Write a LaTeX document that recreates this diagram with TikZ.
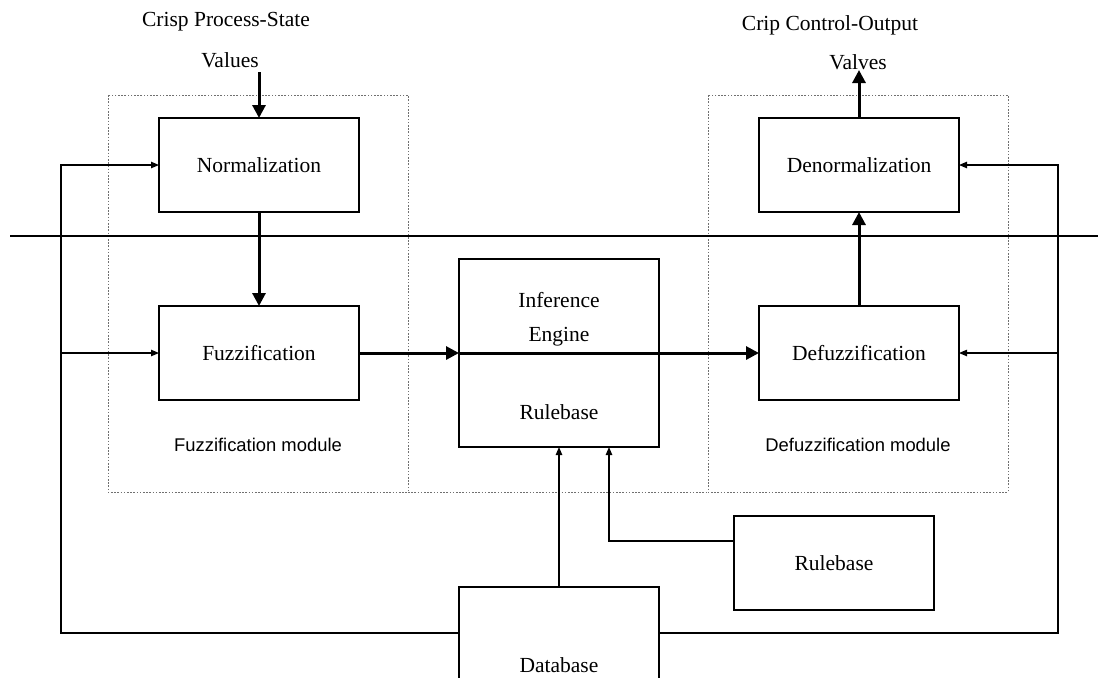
\documentclass[tikz,border=0pt]{standalone}
\usepackage{fontspec}
\setmainfont{Liberation Serif}
\setsansfont{Liberation Sans}
\usetikzlibrary{positioning,arrows.meta}
\definecolor{ModuleGray}{HTML}{707070}

\begin{document}
\begin{tikzpicture}[x=0.5pt,y=-0.5pt,
    box/.style={draw,line width=0.6pt,minimum width=100pt,minimum height=47pt,
      inner sep=0pt,outer sep=0pt,align=center,font=\fontsize{10.75}{13}\selectfont},
    txt/.style={inner sep=0pt,font=\fontsize{10.75}{13}\selectfont},
    modlabel/.style={inner sep=0pt,font=\sffamily\fontsize{9.2}{11}\selectfont},
    module/.style={draw=ModuleGray,line width=0.5pt,dash pattern=on 0.8pt off 0.8pt},
    arrow/.style={line width=1.5pt,-{Triangle[length=6.5pt,width=6.5pt]}},
    link/.style={line width=0.6pt,-{Triangle[length=4pt,width=3.2pt]}}
  ]
    \clip (0,0) rectangle (1098,677);
    % modules
    \draw[module] (108,95) rectangle (408,492);
    \draw[module] (708,95) rectangle (1008,492);
    \draw[module] (408,492) -- (708,492);
    \node[modlabel] (fmod) at (258,445) {Fuzzification module};
    \node[modlabel] (dmod) at (858,445) {Defuzzification module};
    % blocks
    \node[box] (norm) at (259,165) {Normalization};
    \node[box,below=47pt of norm] (fuzz) {Fuzzification};
    \node[box,minimum height=94pt,right=50pt of fuzz] (infer) {};
    \node[box,right=50pt of infer] (defuzz) {Defuzzification};
    \node[box,above=47pt of defuzz] (denorm) {Denormalization};
    \node[box] (rules) at (834,563) {Rulebase};
    \node[box,minimum height=78pt] (data) at (559,665) {Database};
    \node[txt] (inf) at (559,300) {Inference};
    \node[txt] (eng) at (559,337) {Engine};
    \node[txt] (rb) at (559,412) {Rulebase};
    % inputs / outputs
    \node[txt] (inlbl) at (226,22) {Crisp Process-State};
    \node[txt] (invals) at (230,60) {Values};
    \node[txt] (outlbl) at (830,25) {Crip Control-Output};
    \node[txt] (outvals) at (858,62) {Valves};
    \coordinate (inpt) at (259,72);
    \coordinate (outpt) at (859,70);
    \draw[line width=0.6pt] (10,236) -- (1098,236);
    % main flow
    \draw[arrow] (inpt) -- (norm.north);
    \draw[arrow] (norm) -- (fuzz);
    \draw[arrow] (fuzz) -- (infer);
    \draw[arrow] (infer.west) -- (defuzz.west);
    \draw[arrow] (defuzz) -- (denorm);
    \draw[arrow] (denorm.north) -- (outpt);
    % database and rulebase
    \draw[link] (data.north) -- (infer.south);
    \draw[link] ([yshift=11pt]rules.west) -| ([xshift=25pt]infer.south);
    \draw[link] ([yshift=16pt]data.west) -| ([xshift=-49pt]norm.west) -- (norm.west);
    \draw[link] ([xshift=-49pt]fuzz.west) -- (fuzz.west);
    \draw[link] ([yshift=16pt]data.east) -| ([xshift=49.5pt]denorm.east) -- (denorm.east);
    \draw[link] ([xshift=49.5pt]defuzz.east) -- (defuzz.east);
  \end{tikzpicture}
\end{document}
